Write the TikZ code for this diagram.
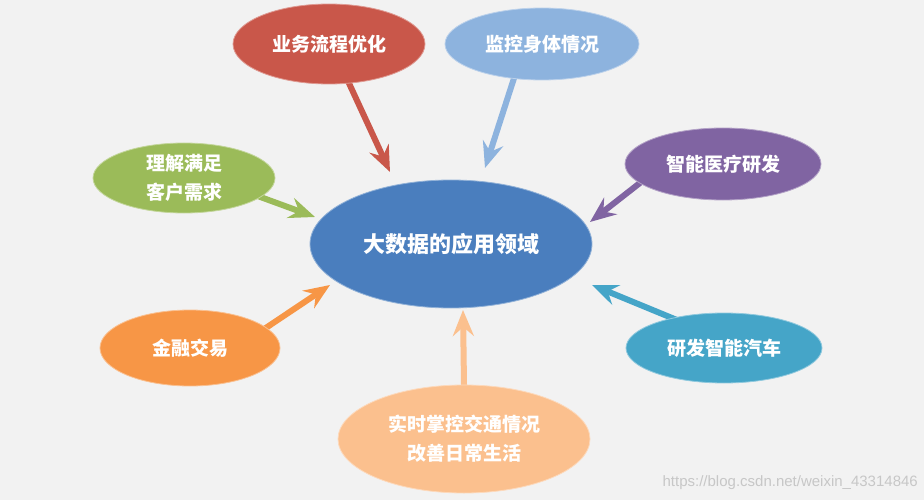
\documentclass[tikz,border=0pt]{standalone}
\usepackage{fontspec}
\newfontfamily\cjk{Noto Sans CJK SC}
\newfontfamily\wmfont{Liberation Sans}
\usetikzlibrary{shapes.geometric,arrows.meta}
\definecolor{bgc}{HTML}{F2F2F2}
\definecolor{cmain}{HTML}{4A7EBE}
\definecolor{cred}{HTML}{C9574A}
\definecolor{clblue}{HTML}{8DB3DE}
\definecolor{cgreen}{HTML}{9BBB59}
\definecolor{cpurple}{HTML}{8064A2}
\definecolor{cteal}{HTML}{45A5C8}
\definecolor{corange}{HTML}{F79646}
\definecolor{cpeach}{HTML}{FBC08E}
\pgfdeclarelayer{bg}
\pgfsetlayers{bg,main}
\tikzset{
  bubble/.style={ellipse, inner sep=0pt, text=white, align=center,
    font=\cjk\bfseries\fontsize{19}{29}\selectfont, line width=0.8pt},
  conn/.style={line width=6pt, shorten <=-8pt,
    -{Stealth[length=26pt,width=21pt,inset=9pt]}},
}
\begin{document}
\begin{tikzpicture}[x=1pt,y=-1pt]
\useasboundingbox (0,0) rectangle (924,500);
\begin{pgfonlayer}{bg}
\fill[bgc] (0,0) rectangle (924,500);
\end{pgfonlayer}
% nodes
\node[bubble, fill=cmain, draw=cmain!60!white, minimum width=282pt, minimum height=128pt,
      font=\cjk\bfseries\fontsize{22}{26}\selectfont] (hub) at (451,244) {大数据的应用领域};
\node[bubble, fill=cred, draw=cred!60!white, minimum width=192pt, minimum height=80pt] (red) at (329,44) {业务流程优化};
\node[bubble, fill=clblue, draw=clblue!60!white, minimum width=194pt, minimum height=72pt] (lblue) at (542,44) {监控身体情况};
\node[bubble, fill=cgreen, draw=cgreen!60!white, minimum width=182pt, minimum height=70pt] (green) at (184,178) {理解满足\\客户需求};
\node[bubble, fill=corange, draw=corange!60!white, minimum width=180pt, minimum height=76pt] (orange) at (190,348) {金融交易};
\node[bubble, fill=cpurple, draw=cpurple!60!white, minimum width=196pt, minimum height=72pt] (purple) at (723,164) {智能医疗研发};
\node[bubble, fill=cteal, draw=cteal!60!white, minimum width=196pt, minimum height=70pt] (teal) at (724,348) {研发智能汽车};
\node[bubble, fill=cpeach, draw=cpeach!60!white, minimum width=252pt, minimum height=108pt] (peach) at (464,439) {实时掌控交通情况\\改善日常生活};
% arrow tips
\coordinate (tRed) at (390,172);
\coordinate (tBlue) at (485,168);
\coordinate (tGreen) at (315,217);
\coordinate (tOrange) at (330,285);
\coordinate (tPurple) at (590,222);
\coordinate (tTeal) at (592,285);
\coordinate (tPeach) at (463,310);
\begin{pgfonlayer}{bg}
\draw[conn, cred] (red.-63) -- (tRed);
\draw[conn, clblue] (lblue.-129) -- (tBlue);
\draw[conn, cgreen] (green.-14) -- (tGreen);
\draw[conn, corange] (orange.15) -- (tOrange);
\draw[conn, cpurple] (purple.-167) -- (tPurple);
\draw[conn, cteal] (teal.150) -- (tTeal);
\draw[conn, cpeach] (peach.90) -- (tPeach);
\end{pgfonlayer}
\node[font=\wmfont\fontsize{15}{18}\selectfont, text=black!22, anchor=east, inner sep=0pt] (wm) at (918,483) {https://blog.csdn.net/weixin\_43314846};
\end{tikzpicture}
\end{document}
